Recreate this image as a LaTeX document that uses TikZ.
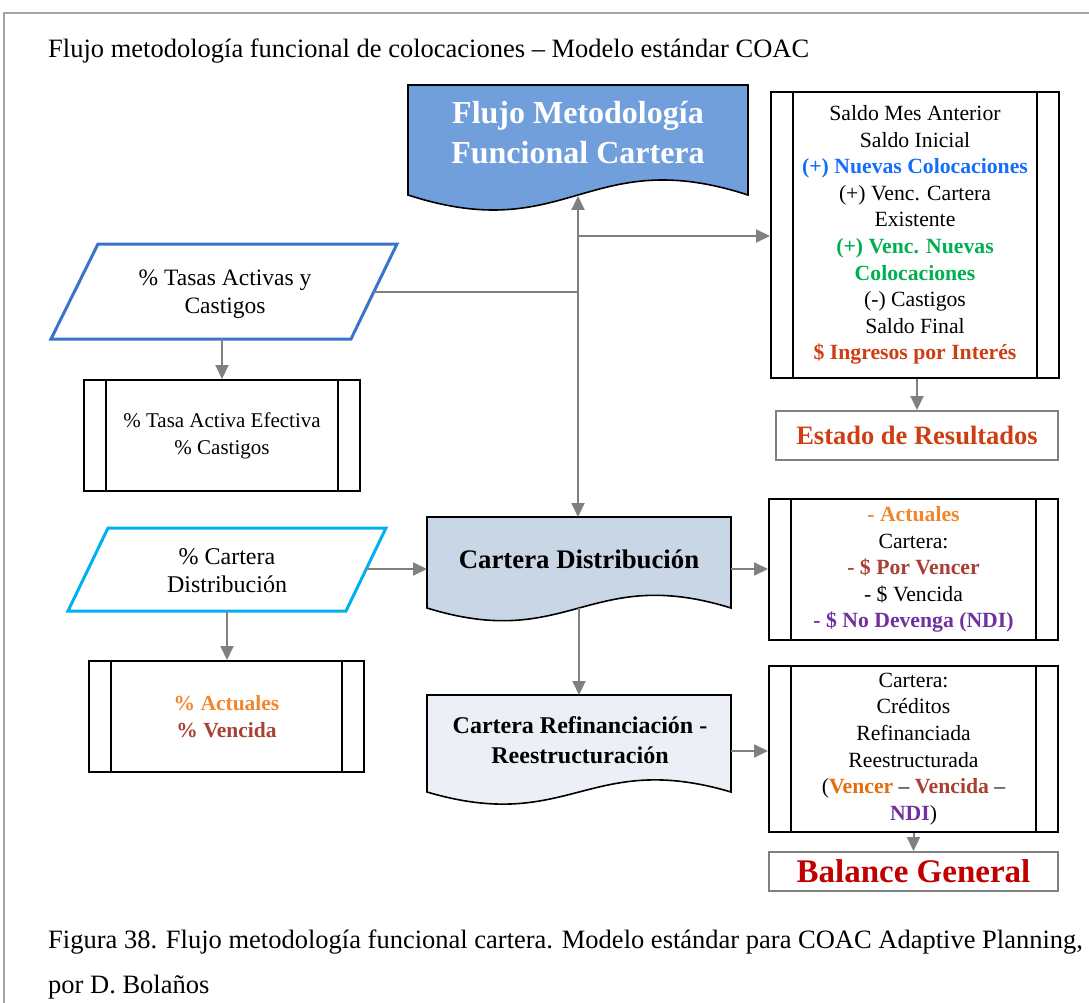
\documentclass[tikz,border=0pt]{standalone}
\usepackage{fontspec}
\usepackage{graphicx}
\setmainfont{Liberation Serif}
\usetikzlibrary{arrows.meta,calc}

\definecolor{framegray}{RGB}{165,165,165}
\definecolor{linkgray}{RGB}{128,128,128}
\definecolor{docblue}{RGB}{112,159,220}
\definecolor{distfill}{RGB}{200,214,230}
\definecolor{refifill}{RGB}{236,240,246}
\definecolor{inblue}{RGB}{58,116,200}
\definecolor{incyan}{RGB}{0,176,240}
\definecolor{txtblue}{RGB}{20,110,250}
\definecolor{txtgreen}{RGB}{0,176,80}
\definecolor{txtrust}{RGB}{205,62,18}
\definecolor{txtorange}{RGB}{240,135,45}
\definecolor{txtorangedk}{RGB}{228,110,12}
\definecolor{txtbrown}{RGB}{168,64,52}
\definecolor{txtpurple}{RGB}{112,48,160}
\definecolor{txtred}{RGB}{192,0,0}

% coloured bold run of text
\newcommand{\hl}[2]{\textcolor{#1}{\textbf{#2}}}
\newcommand{\sizeCap}{\fontsize{26.5}{45}\selectfont}
\newcommand{\sizeBody}{\fontsize{21.7}{26.6}\selectfont}

\begin{document}
\begin{tikzpicture}[x=1pt,y=-1pt,
  conn/.style={draw=linkgray, line width=2pt, -{Triangle[length=14pt,width=13pt]}},
  link/.style={draw=linkgray, line width=2pt},
  proc/.style={draw=black, line width=2pt, inner sep=0pt, align=center,
    path picture={
      \draw[line width=2pt] ([xshift=22pt]path picture bounding box.north west) -- ([xshift=22pt]path picture bounding box.south west);
      \draw[line width=2pt] ([xshift=-22pt]path picture bounding box.north east) -- ([xshift=-22pt]path picture bounding box.south east);}},
  result/.style={draw=linkgray, line width=2pt, inner sep=0pt, align=center},
  label/.style={inner sep=0pt, align=center}]

\useasboundingbox (0,0) rectangle (1089,1003);

% page frame
\draw[framegray, line width=1.2pt] (4,1003) -- (4,13) -- (1089,13);

% heading and caption
\node[anchor=base west, font=\sizeCap, inner sep=0pt] (title) at (48,58)
  {Flujo metodología funcional de colocaciones – Modelo estándar COAC};
\node[anchor=base west, font=\sizeCap, inner sep=0pt] (caption) at (48,948)
  {Figura 38. Flujo metodología funcional cartera. Modelo estándar para COAC Adaptive Planning,};
\node[anchor=base west, font=\sizeCap, inner sep=0pt] (captionB) at (48,993)
  {por D. Bolaños};

% document shapes (wavy bottom edge)
\draw[line width=1.6pt, fill=docblue] (408,85) -- (748,85) -- (748,195)
  .. controls (588,143) and (568,247) .. (408,195) -- cycle;
\node[label, text=white, font=\fontsize{32}{40}\selectfont\bfseries] (head) at (578,133)
  {Flujo Metodología\\Funcional Cartera};
\coordinate (headS) at (578,196);

\draw[line width=1.6pt, fill=distfill] (427,517) -- (731,517) -- (731,608)
  .. controls (589,564) and (569,652) .. (427,608) -- cycle;
\node[label, font=\fontsize{26.8}{32}\selectfont\bfseries] (cdist) at (579,559) {Cartera Distribución};
\coordinate (cdistN) at (578,517);
\coordinate (cdistS) at (579,608);
\coordinate (cdistW) at (427,569);
\coordinate (cdistE) at (731,569);

\draw[line width=1.6pt, fill=refifill] (427,695) -- (731,695) -- (731,792)
  .. controls (589,750) and (569,834) .. (427,792) -- cycle;
\node[label, font=\fontsize{24}{30}\selectfont\bfseries] (refi) at (580,740)
  {Cartera Refinanciación -\\Reestructuración};
\coordinate (refiN) at (579,695);
\coordinate (refiE) at (731,751);

% input parallelograms
\draw[inblue, line width=3pt, line join=miter] (98,244) -- (397,244) -- (351,339) -- (51,339) -- cycle;
\node[label, font=\fontsize{23.5}{28}\selectfont] (tasas) at (225,294) {\% Tasas Activas y\\Castigos};
\coordinate (tasasE) at (374,292);
\coordinate (tasasS) at (222,339);

\draw[incyan, line width=3pt, line join=miter] (108,528) -- (386,528) -- (346,611) -- (68,611) -- cycle;
\node[label, font=\fontsize{24}{28}\selectfont] (cartpar) at (227,571) {\% Cartera\\Distribución};
\coordinate (cartparE) at (366,569);
\coordinate (cartparS) at (227,611);

% predefined process boxes
\node[proc, minimum width=276pt, minimum height=111pt, font=\fontsize{21}{27}\selectfont] (tasadet) at (222,435.5)
  {\% Tasa Activa Efectiva\\\% Castigos};
\node[proc, minimum width=275pt, minimum height=111pt, font=\fontsize{21.5}{27}\selectfont] (actdet) at (226.5,716.5)
  {\hl{txtorange}{\% Actuales}\\\hl{txtbrown}{\% Vencida}};

\node[proc, minimum width=288pt, minimum height=286pt, font=\sizeBody] (saldos) at (915,235)
  {Saldo Mes Anterior\\Saldo Inicial\\\hl{txtblue}{(+) Nuevas Colocaciones}\\(+) Venc. Cartera\\Existente\\
   \hl{txtgreen}{(+) Venc. Nuevas}\\\hl{txtgreen}{Colocaciones}\\(-) Castigos\\Saldo Final\\\hl{txtrust}{\$ Ingresos por Interés}};
\node[proc, minimum width=289pt, minimum height=141pt, font=\sizeBody] (distdet) at (913.5,569.5)
  {\hl{txtorange}{- Actuales}\\Cartera:\\\hl{txtbrown}{- \$ Por Vencer}\\- \$ Vencida\\\hl{txtpurple}{- \$ No Devenga (NDI)}};
\node[proc, minimum width=289pt, minimum height=166pt, font=\sizeBody] (refidet) at (913.5,749)
  {Cartera:\\Créditos\\Refinanciada\\Reestructurada\\(\hl{txtorangedk}{Vencer} – \hl{txtbrown}{Vencida} –\\\hl{txtpurple}{NDI})};

% statements
\node[result, minimum width=282pt, minimum height=49pt, text=txtrust, font=\fontsize{26.5}{30}\selectfont\bfseries] (estado) at (917,435.5)
  {Estado de Resultados};
\node[result, minimum width=289pt, minimum height=39pt, text=txtred, font=\fontsize{33}{36}\selectfont\bfseries] (balance) at (913.5,871.5)
  {Balance General};

% connectors
\coordinate (jn) at (578,292);
\coordinate (br) at (578,236);
\draw[link] (tasasE) -- (jn);
\draw[conn] (jn) -- (headS);
\draw[conn] (jn) -- (cdistN);
\draw[conn] (br) -- (br -| saldos.west);
\draw[conn] (tasasS) -- (tasadet.north);
\draw[conn] (cartparS) -- (cartparS |- actdet.north);
\draw[conn] (cartparE) -- (cdistW);
\draw[conn] (cdistE) -- (cdistE -| distdet.west);
\draw[conn] (cdistS) -- (refiN);
\draw[conn] (refiE) -- (refiE -| refidet.west);
\draw[conn] (saldos.south -| estado.north) -- (estado.north);
\draw[conn] (refidet.south) -- (refidet.south |- balance.north);
\end{tikzpicture}
\end{document}
